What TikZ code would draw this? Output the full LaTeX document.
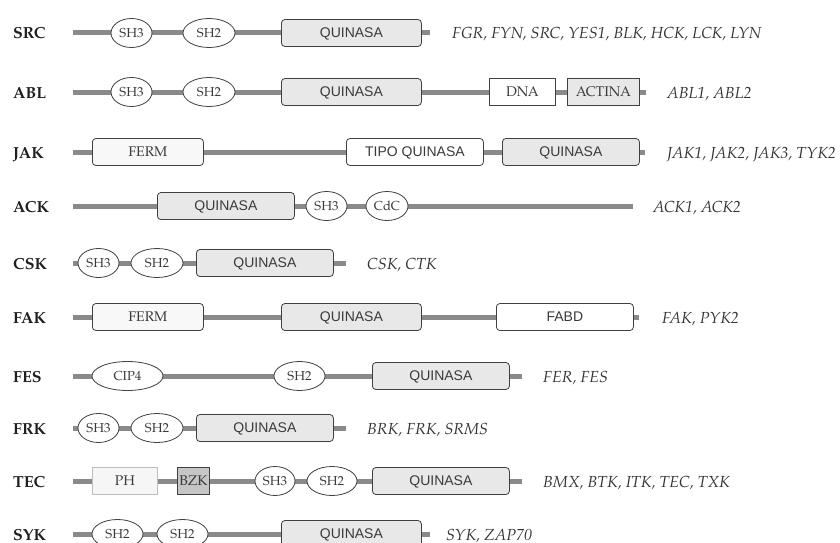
\documentclass[tikz,border=0pt]{standalone}
\usepackage{fontspec}
\setmainfont{TeX Gyre Pagella}
\setsansfont{Liberation Sans}
\usetikzlibrary{shapes.geometric}
\definecolor{barc}{HTML}{8A8A8A}
\definecolor{edgec}{HTML}{404040}
\definecolor{txtc}{HTML}{3A3A3A}
\definecolor{kfill}{HTML}{E8E8E8}
\definecolor{ffill}{HTML}{F8F8F8}
\definecolor{phfill}{HTML}{F6F6F6}
\definecolor{phedge}{HTML}{BDBDBD}
\definecolor{bzkfill}{HTML}{C6C6C6}
\begin{document}
\begin{tikzpicture}[x=1pt,y=-1pt,
  fsz/.style={font=#1\fontsize{13}{15}\selectfont},
  bsz/.style={font=#1\fontsize{14}{16}\selectfont},
  big/.style={font=#1\fontsize{16}{18}\selectfont},
  fam/.style={anchor=base west, inner sep=0pt, big=\bfseries, text=black!88},
  genes/.style={anchor=base west, inner sep=0pt, big=\itshape, text=black!80},
  backbone/.style={draw=barc, line width=5pt},
  dombox/.style={draw=edgec, line width=0.8pt, minimum height=27pt, inner sep=0pt, text depth=0pt, anchor=west, text=txtc},
  kin/.style={dombox, rounded corners=3.5pt, fill=kfill, bsz=\sffamily},
  tipo/.style={dombox, rounded corners=3.5pt, fill=white, bsz=\sffamily},
  ferm/.style={dombox, rounded corners=3.5pt, fill=ffill, bsz=\rmfamily},
  sqbox/.style={dombox, fill=white, bsz=\rmfamily},
  actbox/.style={dombox, fill=kfill, bsz=\rmfamily},
  phbox/.style={dombox, draw=phedge, fill=phfill, bsz=\rmfamily},
  bzkbox/.style={dombox, fill=bzkfill, bsz=\rmfamily},
  oval/.style={ellipse, draw=edgec, line width=0.8pt, fill=white, minimum height=29pt, inner sep=0pt, text=txtc, fsz=\rmfamily},
]
\useasboundingbox (0,0) rectangle (840,543);
\clip (0,0) rectangle (840,543);

% ---------- SRC
\coordinate (srcA) at (73,33); \coordinate (srcB) at (430,33);
\draw[backbone] (srcA) -- (srcB);
\node[fam] (srcL) at (13,39) {SRC};
\node[oval, minimum width=41pt] (srcSH3) at (131.5,33) {SH3};
\node[oval, minimum width=52pt] (srcSH2) at (209,33) {SH2};
\node[kin, minimum width=140pt] (srcK) at (281,33) {QUINASA};
\node[genes] (srcG) at (452,39) {FGR, FYN, SRC, YES1, BLK, HCK, LCK, LYN};

% ---------- ABL
\coordinate (ablA) at (73,92); \coordinate (ablB) at (646,92);
\draw[backbone] (ablA) -- (ablB);
\node[fam] (ablL) at (13,98) {ABL};
\node[oval, minimum width=41pt] (ablSH3) at (131.5,92) {SH3};
\node[oval, minimum width=52pt] (ablSH2) at (209,92) {SH2};
\node[kin, minimum width=140pt] (ablK) at (281,92) {QUINASA};
\node[sqbox, minimum width=66pt] (ablDNA) at (489,92) {DNA};
\node[actbox, minimum width=72pt] (ablACT) at (567,92) {ACTINA};
\node[genes] (ablG) at (667,98) {ABL1, ABL2};

% ---------- JAK
\coordinate (jakA) at (73,152); \coordinate (jakB) at (645,152);
\draw[backbone] (jakA) -- (jakB);
\node[fam] (jakL) at (13,158) {JAK};
\node[ferm, minimum width=111pt] (jakF) at (92,152) {FERM};
\node[tipo, minimum width=137pt] (jakT) at (346,152) {TIPO QUINASA};
\node[kin, minimum width=137pt] (jakK) at (502,152) {QUINASA};
\node[genes] (jakG) at (667,158) {JAK1, JAK2, JAK3, TYK2};

% ---------- ACK
\coordinate (ackA) at (73,206); \coordinate (ackB) at (633,206);
\draw[backbone] (ackA) -- (ackB);
\node[fam] (ackL) at (13,212) {ACK};
\node[kin, minimum width=137pt] (ackK) at (157,206) {QUINASA};
\node[oval, minimum width=41pt] (ackSH3) at (326.5,206) {SH3};
\node[oval, minimum width=42pt] (ackC) at (387,206) {CdC};
\node[genes] (ackG) at (653,212) {ACK1, ACK2};

% ---------- CSK
\coordinate (cskA) at (73,263); \coordinate (cskB) at (346,263);
\draw[backbone] (cskA) -- (cskB);
\node[fam] (cskL) at (13,269) {CSK};
\node[oval, minimum width=41pt] (cskSH3) at (98.5,263) {SH3};
\node[oval, minimum width=52pt] (cskSH2) at (157,263) {SH2};
\node[kin, minimum width=137pt] (cskK) at (196,263) {QUINASA};
\node[genes] (cskG) at (367,269) {CSK, CTK};

% ---------- FAK
\coordinate (fakA) at (73,317); \coordinate (fakB) at (639,317);
\draw[backbone] (fakA) -- (fakB);
\node[fam] (fakL) at (13,323) {FAK};
\node[ferm, minimum width=111pt] (fakF) at (92,317) {FERM};
\node[kin, minimum width=140pt] (fakK) at (281,317) {QUINASA};
\node[tipo, minimum width=137pt] (fakFA) at (496,317) {FABD};
\node[genes] (fakG) at (662,323) {FAK, PYK2};

% ---------- FES
\coordinate (fesA) at (73,376); \coordinate (fesB) at (522,376);
\draw[backbone] (fesA) -- (fesB);
\node[fam] (fesL) at (13,382) {FES};
\node[oval, minimum width=71pt] (fesC) at (127.5,376) {CIP4};
\node[oval, minimum width=51pt] (fesSH2) at (299.5,376) {SH2};
\node[kin, minimum width=137pt] (fesK) at (372,376) {QUINASA};
\node[genes] (fesG) at (543,382) {FER, FES};

% ---------- FRK
\coordinate (frkA) at (73,428); \coordinate (frkB) at (346,428);
\draw[backbone] (frkA) -- (frkB);
\node[fam] (frkL) at (13,434) {FRK};
\node[oval, minimum width=41pt] (frkSH3) at (98.5,428) {SH3};
\node[oval, minimum width=52pt] (frkSH2) at (157,428) {SH2};
\node[kin, minimum width=137pt] (frkK) at (196,428) {QUINASA};
\node[genes] (frkG) at (367,434) {BRK, FRK, SRMS};

% ---------- TEC
\coordinate (tecA) at (73,481); \coordinate (tecB) at (522,481);
\draw[backbone] (tecA) -- (tecB);
\node[fam] (tecL) at (13,487) {TEC};
\node[phbox, minimum width=65pt] (tecPH) at (92,481) {PH};
\node[bzkbox, minimum width=32pt] (tecB2) at (177,481) {BZK};
\node[oval, minimum width=40pt] (tecSH3) at (275,481) {SH3};
\node[oval, minimum width=50pt] (tecSH2) at (332,481) {SH2};
\node[kin, minimum width=137pt] (tecK) at (372,481) {QUINASA};
\node[genes] (tecG) at (543,487) {BMX, BTK, ITK, TEC, TXK};

% ---------- SYK
\coordinate (sykA) at (73,534); \coordinate (sykB) at (430,534);
\draw[backbone] (sykA) -- (sykB);
\node[fam] (sykL) at (13,540) {SYK};
\node[oval, minimum width=51pt] (sykSH2a) at (117.5,534) {SH2};
\node[oval, minimum width=51pt] (sykSH2b) at (182.5,534) {SH2};
\node[kin, minimum width=140pt] (sykK) at (281,534) {QUINASA};
\node[genes] (sykG) at (446,540) {SYK, ZAP70};
\end{tikzpicture}
\end{document}
